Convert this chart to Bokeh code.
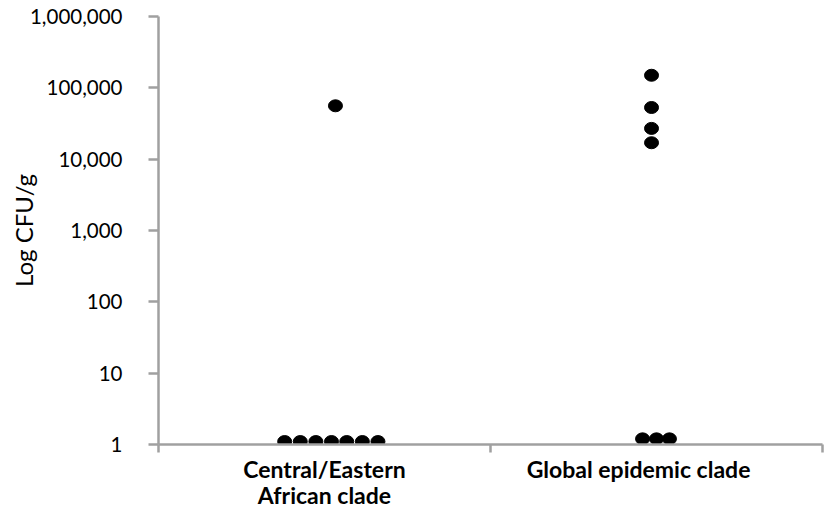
from bokeh.plotting import figure
from bokeh.models import Range1d, FixedTicker, NumeralTickFormatter, ColumnDataSource
from bokeh.embed import file_html
from bokeh.resources import INLINE

# ---- data ----
categories = ["Central/Eastern\nAfrican clade", "Global epidemic clade"]
clade1_values = [56000, 1.1, 1.1, 1.1, 1.1, 1.1, 1.1, 1.1]
clade1_offsets = [0.033, -0.120, -0.073, -0.026, 0.021, 0.067, 0.114, 0.161]
clade2_values = [150000, 53000, 27000, 17000, 1.2, 1.2, 1.2]
clade2_offsets = [-0.015, -0.015, -0.015, -0.015, -0.042, 0.0, 0.039]
y_ticks = [1, 10, 100, 1000, 10000, 100000, 1000000]
y_label = "Log CFU/g"
label_shift = [0.0, -0.054]   # category label placement tweak (fraction of category width)

AXIS_COLOR = "#a0a0a0"
FONT = "Lato"

xs, ys = [], []
for i, (vals, offs) in enumerate([(clade1_values, clade1_offsets), (clade2_values, clade2_offsets)]):
    for v, o in zip(vals, offs):
        xs.append(i + 0.5 + o)
        ys.append(v)
src = ColumnDataSource(dict(x=xs, y=ys))

p = figure(width=833, height=515, y_axis_type="log",
           x_range=Range1d(0, len(categories)), y_range=Range1d(y_ticks[0], y_ticks[-1]),
           output_backend="svg", toolbar_location=None,
           min_border_left=158, min_border_right=11, min_border_top=16, min_border_bottom=71)
p.outline_line_color = None
p.xgrid.grid_line_color = None
p.ygrid.grid_line_color = None
p.background_fill_color = "white"
p.border_fill_color = "white"

p.ellipse(x="x", y="y", width=14, height=12, width_units="screen", height_units="screen",
          source=src, fill_color="black", line_color="black")

# y axis
ya = p.yaxis[0]
ya.ticker = FixedTicker(ticks=y_ticks, minor_ticks=[])
ya.formatter = NumeralTickFormatter(format="0,0")
ya.axis_line_color = AXIS_COLOR
ya.axis_line_width = 2.5
ya.major_tick_line_color = AXIS_COLOR
ya.major_tick_line_width = 2.5
ya.major_tick_out = 10
ya.major_tick_in = 0
ya.minor_tick_line_color = None
ya.major_label_standoff = 26
ya.major_label_text_font = FONT
ya.major_label_text_font_size = "20.5px"
ya.major_label_text_color = "black"
ya.axis_label = y_label
ya.axis_label_text_font = FONT
ya.axis_label_text_font_size = "24px"
ya.axis_label_text_font_style = "normal"
ya.axis_label_text_color = "black"
ya.axis_label_standoff = -11

# x axis
label_pos = [i + 0.5 + s for i, s in enumerate(label_shift)]
xa = p.xaxis[0]
xa.ticker = FixedTicker(ticks=label_pos, minor_ticks=list(range(len(categories) + 1)))
xa.major_label_overrides = {pos: c for pos, c in zip(label_pos, categories)}
xa.axis_line_color = AXIS_COLOR
xa.axis_line_width = 2.5
xa.major_tick_line_color = None
xa.minor_tick_line_color = AXIS_COLOR
xa.minor_tick_line_width = 2.5
xa.minor_tick_out = 8
xa.minor_tick_in = 0
xa.major_tick_out = 0
xa.major_tick_in = 0
xa.major_label_standoff = 2
xa.major_label_text_font = FONT
xa.major_label_text_font_style = "bold"
xa.major_label_text_font_size = "23px"
xa.major_label_text_line_height = 0.95
xa.major_label_text_color = "black"

open("out.html", "w").write(file_html(p, INLINE))
